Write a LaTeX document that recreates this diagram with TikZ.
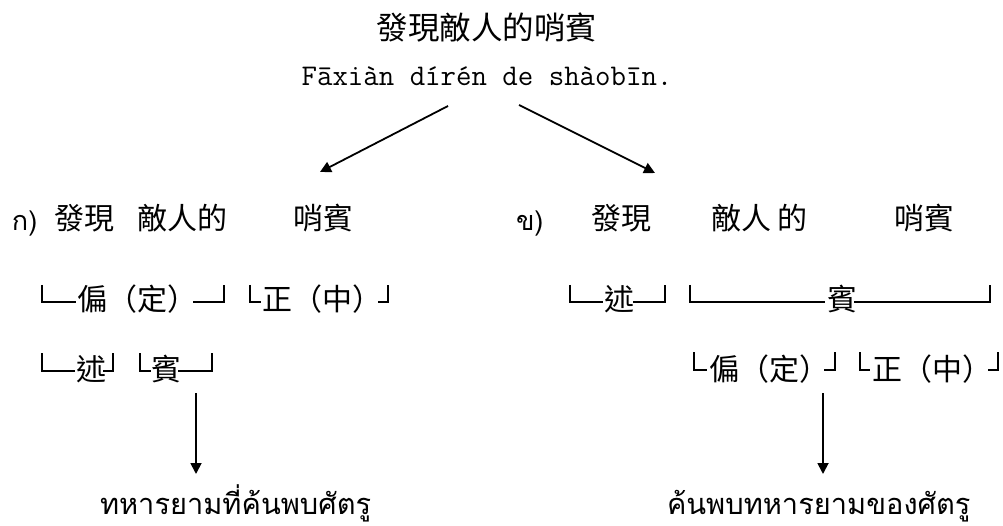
\documentclass[tikz,border=0pt]{standalone}
\usepackage{fontspec}
\newfontfamily\cjk{Noto Sans CJK TC}
\newfontfamily\thai[Script=Thai]{Loma}
\usetikzlibrary{arrows.meta}
\tikzset{
  lbl/.style={inner sep=0pt, outer sep=0pt, anchor=base west, font=\cjk\fontsize{30}{30}\selectfont},
  thailbl/.style={inner sep=0pt, outer sep=0pt, anchor=base west, font=\thai\fontsize{27}{27}\selectfont},
  thaibig/.style={inner sep=0pt, outer sep=0pt, anchor=base west, font=\thai\fontsize{29}{29}\selectfont},
  brk/.style={line width=1.8pt, line cap=butt, line join=miter},
  arr/.style={line width=1.8pt, -{Triangle[width=11pt,length=11pt]}}
}
\begin{document}
\begin{tikzpicture}[x=1pt,y=-1pt]
\useasboundingbox (0,0) rectangle (1003,526);
% title
\node[inner sep=0pt, anchor=base, font=\cjk\fontsize{31.5}{31.5}\selectfont] (title) at (487,39.5) {發現敵人的哨賓};
\node[inner sep=0pt, anchor=base, font=\ttfamily\fontsize{30}{30}\selectfont] (pinyin) at (487,86) {Fāxiàn dírén de shàobīn.};
% arrows from title
\coordinate (la) at (448,106);
\coordinate (lb) at (320,172);
\coordinate (ra) at (519,105);
\coordinate (rb) at (655,173);
\draw[arr] (la) -- (lb);
\draw[arr] (ra) -- (rb);
% left row 1
\node[thailbl] (ka) at (12,231) {ก)};
\node[lbl] (l1a) at (54,229.5) {發現};
\node[lbl] (l1b) at (137,229.5) {敵人的};
\node[lbl] (l1c) at (293,229.5) {哨賓};
% right row 1
\node[thailbl] (kb) at (516,231) {ข)};
\node[lbl] (r1a) at (591,229.5) {發現};
\node[lbl] (r1b) at (711,229.5) {敵人};
\node[lbl] (r1c) at (777,229.5) {的};
\node[lbl] (r1d) at (894,229.5) {哨賓};
% left row 2
\draw[brk] (42,285) -- (42,302) -- (76,302);
\node[lbl] (l2a) at (77,311) {偏（定）};
\draw[brk] (193,302) -- (224,302) -- (224,285);
\draw[brk] (250,285) -- (250,302) -- (261,302);
\node[lbl] (l2b) at (262,311) {正（中）};
\draw[brk] (378,302) -- (388,302) -- (388,285);
% left row 3
\draw[brk] (42,353) -- (42,371) -- (75,371);
\node[lbl] (l3a) at (76,380) {述};
\draw[brk] (103,371) -- (113,371) -- (113,353);
\draw[brk] (140,353) -- (140,371) -- (151,371);
\node[lbl] (l3b) at (151,380) {賓};
\draw[brk] (178,371) -- (212,371) -- (212,353);
% right row 2
\draw[brk] (570,285) -- (570,302) -- (603,302);
\node[lbl] (r2a) at (604,311) {述};
\draw[brk] (633,302) -- (665,302) -- (665,285);
\draw[brk] (690,285) -- (690,302) -- (825,302);
\node[lbl] (r2b) at (827,311) {賓};
\draw[brk] (854,302) -- (990,302) -- (990,285);
% right row 3
\draw[brk] (694,352) -- (694,370) -- (707,370);
\node[lbl] (r3a) at (709,380) {偏（定）};
\draw[brk] (824,370) -- (835,370) -- (835,352);
\draw[brk] (860,352) -- (860,370) -- (870,370);
\node[lbl] (r3b) at (872,380) {正（中）};
\draw[brk] (988,370) -- (998,370) -- (998,352);
% down arrows
\coordinate (lda) at (196,393);
\coordinate (ldb) at (196,474);
\coordinate (rda) at (823,393);
\coordinate (rdb) at (823,474);
\draw[arr] (lda) -- (ldb);
\draw[arr] (rda) -- (rdb);
% bottom Thai
\node[thaibig] (tl) at (100,514) {ทหารยามที่ค้นพบศัตรู};
\node[thaibig] (tr) at (667,514) {ค้นพบทหารยามของศัตรู};
\end{tikzpicture}
\end{document}
